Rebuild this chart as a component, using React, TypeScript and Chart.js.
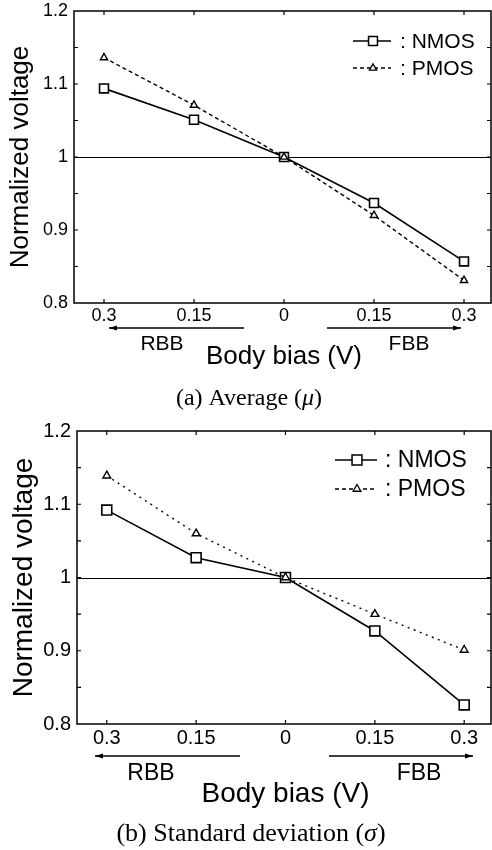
import { useEffect, useRef } from "react";
import { Chart, registerables } from "chart.js";

Chart.register(...registerables);

// ---- data ----
const biasValues = [-0.3, -0.15, 0, 0.15, 0.3];
const biasTickLabels = ["0.3", "0.15", "0", "0.15", "0.3"];
const avgNmos = [1.094, 1.051, 1.0, 0.937, 0.857];
const avgPmos = [1.136, 1.071, 1.0, 0.92, 0.831];
const stdNmos = [1.092, 1.027, 1.0, 0.927, 0.826];
const stdPmos = [1.139, 1.06, 1.0, 0.95, 0.901];
const yTickValues = [0.8, 0.85, 0.9, 0.95, 1.0, 1.05, 1.1, 1.15, 1.2];
const yTickLabels = ["0.8", "", "0.9", "", "1", "", "1.1", "", "1.2"];
const seriesNames = ["NMOS", "PMOS"];
const xTitle = "Body bias (V)";
const yTitle = "Normalized voltage";
const directionLabels = ["RBB", "FBB"];
const captionA = ["(a) Average (", "μ", ")"];
const captionB = ["(b) Standard deviation (", "σ", ")"];

const W = 492;
const SANS = "'Liberation Sans', Arial, sans-serif";
const SERIF = "'Liberation Serif', 'Times New Roman', serif";

type Panel = {
  nmos: number[];
  pmos: number[];
  caption: string[];
  height: number;
  area: { left: number; top: number; right: number; bottom: number };
  tickFont: number;
  titleFont: number;
  legendFont: number;
  dirFont: number;
  captionFont: number;
  pmosDash: number[];
  squareR: number;
  triR: number;
  legend: { x0: number; x1: number; mark: number; textX: number; y1: number; y2: number };
  arrowY: number;
  rbbArrow: [number, number];
  fbbArrow: [number, number];
  dirY: number;
  rbbX: number;
  fbbX: number;
  xTitleY: number;
  yTitleX: number;
  captionX: number;
  captionY: number;
};

const panelA: Panel = {
  nmos: avgNmos,
  pmos: avgPmos,
  caption: captionA,
  height: 420,
  area: { left: 74, top: 11, right: 491, bottom: 303 },
  tickFont: 18,
  titleFont: 26,
  legendFont: 21,
  dirFont: 21,
  captionFont: 24,
  pmosDash: [4, 3],
  squareR: 6.3,
  triR: 4.2,
  legend: { x0: 353, x1: 391, mark: 373, textX: 400, y1: 41, y2: 68 },
  arrowY: 328,
  rbbArrow: [109, 244],
  fbbArrow: [327, 461],
  dirY: 350,
  rbbX: 162,
  fbbX: 409,
  xTitleY: 364,
  yTitleX: 28,
  captionX: 249,
  captionY: 405,
};

const panelB: Panel = {
  nmos: stdNmos,
  pmos: stdPmos,
  caption: captionB,
  height: 430,
  area: { left: 77, top: 11, right: 491, bottom: 304 },
  tickFont: 20,
  titleFont: 28,
  legendFont: 23,
  dirFont: 23,
  captionFont: 26,
  pmosDash: [2, 4.5],
  squareR: 7,
  triR: 4.5,
  legend: { x0: 335, x1: 377, mark: 357, textX: 385, y1: 40, y2: 69 },
  arrowY: 336,
  rbbArrow: [95, 240],
  fbbArrow: [329, 473],
  dirY: 360,
  rbbX: 151,
  fbbX: 419,
  xTitleY: 382,
  yTitleX: 32,
  captionX: 251,
  captionY: 421,
};

function drawSquare(ctx: CanvasRenderingContext2D, x: number, y: number, r: number) {
  const s = Math.SQRT1_2 * r;
  ctx.beginPath();
  ctx.rect(x - s, y - s, 2 * s, 2 * s);
  ctx.fillStyle = "#fff";
  ctx.fill();
  ctx.stroke();
}

function drawTriangle(ctx: CanvasRenderingContext2D, x: number, y: number, r: number) {
  let rad = 0;
  ctx.beginPath();
  ctx.moveTo(x + Math.sin(rad) * r, y - Math.cos(rad) * r);
  rad += (2 * Math.PI) / 3;
  ctx.lineTo(x + Math.sin(rad) * r, y - Math.cos(rad) * r);
  rad += (2 * Math.PI) / 3;
  ctx.lineTo(x + Math.sin(rad) * r, y - Math.cos(rad) * r);
  ctx.closePath();
  ctx.fillStyle = "#fff";
  ctx.fill();
  ctx.stroke();
}

function drawArrow(ctx: CanvasRenderingContext2D, x0: number, x1: number, y: number, headAtStart: boolean) {
  ctx.beginPath();
  ctx.moveTo(x0, y);
  ctx.lineTo(x1, y);
  ctx.stroke();
  const hx = headAtStart ? x0 : x1;
  const dir = headAtStart ? 1 : -1;
  ctx.beginPath();
  ctx.moveTo(hx, y);
  ctx.lineTo(hx + dir * 8, y - 2.5);
  ctx.lineTo(hx + dir * 8, y + 2.5);
  ctx.closePath();
  ctx.fill();
}

function ChartPanel({ panel }: { panel: Panel }) {
  const ref = useRef<HTMLCanvasElement>(null);

  useEffect(() => {
    const p = panel;
    const canvas = ref.current!;

    // pin the plot area's right edge to the reference frame
    const areaFix = {
      id: "areaFix",
      afterLayout(chart: any) {
        const xs = chart.scales.x;
        const target = p.area.right;
        chart.chartArea.right = target;
        chart.chartArea.width = target - chart.chartArea.left;
        xs.right = target;
        xs.width = target - xs.left;
        xs.maxWidth = xs.width;
        xs.configure();
      },
    };

    const decor = {
      id: "decor",
      beforeDatasetsDraw(chart: any) {
        const { ctx, chartArea: a } = chart;
        const y = chart.scales.y;
        const py = Math.round(y.getPixelForValue(1)) + 0.5;
        ctx.save();
        ctx.strokeStyle = "#000";
        ctx.lineWidth = 1;
        ctx.beginPath();
        ctx.moveTo(a.left, py);
        ctx.lineTo(a.right, py);
        ctx.stroke();
        ctx.restore();
      },
      afterDraw(chart: any) {
        const { ctx, chartArea: a } = chart;
        const xs = chart.scales.x;
        const ys = chart.scales.y;
        ctx.save();
        ctx.strokeStyle = "#000";
        ctx.fillStyle = "#000";
        ctx.lineWidth = 1.5;
        ctx.strokeRect(a.left, a.top, a.right - a.left, a.bottom - a.top);
        ctx.lineWidth = 1.2;
        ctx.beginPath();
        yTickValues.forEach((v) => {
          const py = ys.getPixelForValue(v);
          if (Math.abs(py - a.top) < 2 || Math.abs(py - a.bottom) < 2) return;
          ctx.moveTo(a.left, py);
          ctx.lineTo(a.left + 4, py);
          ctx.moveTo(a.right, py);
          ctx.lineTo(a.right - 4, py);
        });
        biasValues.forEach((v) => {
          const px = xs.getPixelForValue(v);
          ctx.moveTo(px, a.bottom);
          ctx.lineTo(px, a.bottom - 4);
          ctx.moveTo(px, a.top);
          ctx.lineTo(px, a.top + 4);
        });
        ctx.stroke();

        ctx.save();
        ctx.font = `${p.titleFont}px ${SANS}`;
        ctx.textAlign = "center";
        ctx.textBaseline = "alphabetic";
        ctx.translate(p.yTitleX, (a.top + a.bottom) / 2);
        ctx.rotate(-Math.PI / 2);
        ctx.fillText(yTitle, 0, 0);
        ctx.restore();

        ctx.font = `${p.titleFont}px ${SANS}`;
        ctx.textAlign = "center";
        ctx.textBaseline = "alphabetic";
        ctx.fillText(xTitle, xs.getPixelForValue(0), p.xTitleY);

        ctx.lineWidth = 1.3;
        drawArrow(ctx, p.rbbArrow[0], p.rbbArrow[1], p.arrowY, true);
        drawArrow(ctx, p.fbbArrow[0], p.fbbArrow[1], p.arrowY, false);
        ctx.font = `${p.dirFont}px ${SANS}`;
        ctx.fillText(directionLabels[0], p.rbbX, p.dirY);
        ctx.fillText(directionLabels[1], p.fbbX, p.dirY);

        const L = p.legend;
        ctx.lineWidth = 1.5;
        ctx.setLineDash([]);
        ctx.beginPath();
        ctx.moveTo(L.x0, L.y1);
        ctx.lineTo(L.x1, L.y1);
        ctx.stroke();
        drawSquare(ctx, L.mark, L.y1, p.squareR);
        ctx.lineWidth = 1.3;
        ctx.setLineDash([4, 3]);
        ctx.beginPath();
        ctx.moveTo(L.x0, L.y2);
        ctx.lineTo(L.x1, L.y2);
        ctx.stroke();
        ctx.setLineDash([]);
        drawTriangle(ctx, L.mark, L.y2, p.triR);
        ctx.fillStyle = "#000";
        ctx.font = `${p.legendFont}px ${SANS}`;
        ctx.textAlign = "left";
        ctx.textBaseline = "middle";
        ctx.fillText(": " + seriesNames[0], L.textX, L.y1 + 1);
        ctx.fillText(": " + seriesNames[1], L.textX, L.y2 + 1);

        const normal = `${p.captionFont}px ${SERIF}`;
        const italic = `italic ${p.captionFont}px ${SERIF}`;
        const parts = p.caption;
        ctx.font = normal;
        const w0 = ctx.measureText(parts[0]).width;
        const w2 = ctx.measureText(parts[2]).width;
        ctx.font = italic;
        const w1 = ctx.measureText(parts[1]).width;
        let cx = p.captionX - (w0 + w1 + w2) / 2;
        ctx.textAlign = "left";
        ctx.textBaseline = "alphabetic";
        ctx.font = normal;
        ctx.fillText(parts[0], cx, p.captionY);
        cx += w0;
        ctx.font = italic;
        ctx.fillText(parts[1], cx, p.captionY);
        cx += w1;
        ctx.font = normal;
        ctx.fillText(parts[2], cx, p.captionY);
        ctx.restore();
      },
    };

    const chart: any = new Chart(canvas, {
      type: "line",
      data: {
        datasets: [
          {
            label: seriesNames[0],
            data: biasValues.map((x, i) => ({ x, y: p.nmos[i] })),
            borderColor: "#000",
            borderWidth: 1.6,
            pointStyle: "rect",
            pointRadius: p.squareR,
            pointBackgroundColor: "#fff",
            pointBorderColor: "#000",
            pointBorderWidth: 1.6,
            tension: 0,
            order: 1,
          },
          {
            label: seriesNames[1],
            data: biasValues.map((x, i) => ({ x, y: p.pmos[i] })),
            borderColor: "#000",
            borderWidth: 1.4,
            borderDash: p.pmosDash,
            pointStyle: "triangle",
            pointRadius: p.triR,
            pointBackgroundColor: "#fff",
            pointBorderColor: "#000",
            pointBorderWidth: 1.4,
            tension: 0,
            order: 0,
          },
        ],
      },
      options: {
        responsive: false,
        animation: false,
        devicePixelRatio: 1,
        events: [],
        layout: { padding: { left: 0, top: p.area.top, right: W - p.area.right, bottom: 0 } },
        plugins: { legend: { display: false }, tooltip: { enabled: false } },
        scales: {
          x: {
            type: "linear",
            min: -0.35,
            max: 0.345,
            grid: { display: false, drawTicks: false },
            border: { display: false },
            afterBuildTicks: (s: any) => {
              s.ticks = biasValues.map((v) => ({ value: v }));
            },
            afterFit: (s: any) => {
              s.height = p.height - p.area.bottom;
              s.paddingLeft = 0;
              s.paddingRight = 0;
              s.paddingTop = 0;
              s.paddingBottom = 0;
            },
            ticks: {
              autoSkip: false,
              maxRotation: 0,
              padding: 2,
              color: "#000",
              font: { family: SANS, size: p.tickFont },
              callback: (_v: any, i: number) => biasTickLabels[i],
            },
          },
          y: {
            type: "linear",
            min: 0.8,
            max: 1.2,
            grid: { display: false, drawTicks: false },
            border: { display: false },
            afterBuildTicks: (s: any) => {
              s.ticks = yTickValues.map((v) => ({ value: v }));
            },
            afterFit: (s: any) => {
              s.width = p.area.left;
              s.paddingLeft = 0;
              s.paddingRight = 0;
              s.paddingTop = 0;
              s.paddingBottom = 0;
            },
            ticks: {
              autoSkip: false,
              padding: 6,
              color: "#000",
              font: { family: SANS, size: p.tickFont },
              callback: (_v: any, i: number) => yTickLabels[i],
            },
          },
        },
      },
      plugins: [areaFix, decor],
    } as any);

    return () => chart.destroy();
  }, [panel]);

  return (
    <canvas
      ref={ref}
      width={W}
      height={panel.height}
      style={{ display: "block", width: W, height: panel.height }}
    />
  );
}

export default function App() {
  return (
    <div style={{ position: "absolute", left: 0, top: 0, width: W, height: 850, background: "#fff" }}>
      <ChartPanel panel={panelA} />
      <ChartPanel panel={panelB} />
    </div>
  );
}
